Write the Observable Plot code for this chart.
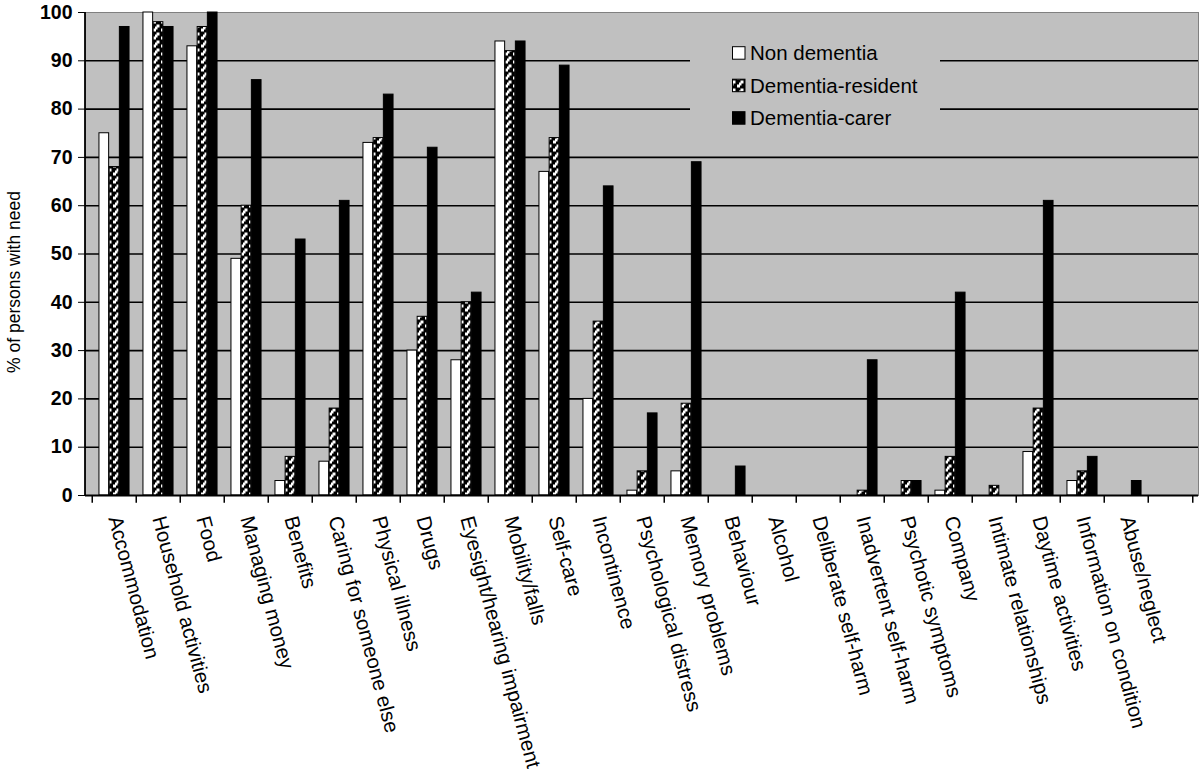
<!DOCTYPE html>
<html><head><meta charset="utf-8">
<script src="https://cdn.jsdelivr.net/npm/d3@7"></script>
<script src="https://cdn.jsdelivr.net/npm/@observablehq/plot@0.6"></script>
<style>
html,body{margin:0;padding:0;background:#fff;}
#chart{position:relative;width:1200px;height:777px;overflow:hidden;}
</style></head><body>
<svg width="0" height="0" style="position:absolute">
<defs>
<pattern id="zig" patternUnits="userSpaceOnUse" width="8" height="8">
<rect width="8" height="8" fill="#000"/>
<path d="M1,7.5 h3 v-2 h1.5 v-2 h2 v-3 h-3 v2 h-1.5 v2 h-2 z" fill="#fff"/>
</pattern>
</defs></svg>
<div id="chart"></div>
<script>
const categories = ["Accommodation","Household activities","Food","Managing money","Benefits",
  "Caring for someone else","Physical illness","Drugs","Eyesight/hearing impairment","Mobility/falls",
  "Self-care","Incontinence","Psychological distress","Memory problems","Behaviour","Alcohol",
  "Deliberate self-harm","Inadvertent self-harm","Psychotic symptoms","Company","Intimate relationships",
  "Daytime activities","Information on condition","Abuse/neglect",""];
const nonDementia      = [75,100,93,49,3,7,73,30,28,94,67,20,1,5,0,0,0,0,0,1,0,9,3,0,null];
const dementiaResident = [68,98,97,60,8,18,74,37,40,92,74,36,5,19,0,0,0,1,3,8,2,18,5,0,null];
const dementiaCarer    = [97,97,100,86,53,61,83,72,42,94,89,64,17,69,6,0,0,28,3,42,0,61,8,3,null];
const seriesNames = ["Non dementia","Dementia-resident","Dementia-carer"];
const seriesFills = ["#ffffff","url(#zig)","#000000"];
const yTicks = [0,10,20,30,40,50,60,70,80,90,100];
const yLabel = "% of persons with need";

const W = 1200, H = 777, mL = 85, mR = 2, mT = 12, mB = 282;
const bw = (W - mL - mR) / categories.length;
const barW = 10.2;
const off = (bw - 3 * barW) / 2;
const allSeries = [nonDementia, dementiaResident, dementiaCarer];
const rows = allSeries.map((vals, s) => categories.map((c, i) => ({category: c, value: vals[i], s}))
  .filter(d => d.value != null));

const barMarks = rows.map((data, s) => Plot.barY(data, {
  x: "category", y: "value", fill: seriesFills[s], stroke: "#000", strokeWidth: 1,
  insetLeft: off + s * barW, insetRight: bw - off - (s + 1) * barW
}));

const chart = Plot.plot({
  width: W, height: H, marginLeft: mL, marginRight: mR, marginTop: mT, marginBottom: mB,
  style: {fontFamily: "'Liberation Sans', Arial, Helvetica, sans-serif", color: "#000", background: "#fff"},
  x: {type: "band", domain: categories, padding: 0, axis: null},
  y: {domain: [0, 100], axis: null},
  marks: [
    Plot.frame({fill: "#c0c0c0", stroke: "#808080", strokeWidth: 1}),
    Plot.ruleY(yTicks.filter(v => v > 0 && v < 100), {stroke: "#000", strokeWidth: 1.6}),
    ...barMarks,
    Plot.ruleY([0], {stroke: "#000", strokeWidth: 1.8}),
    Plot.ruleX(categories, {x: d => d, dx: -bw / 2, y1: 0, y2: -1.6, stroke: "#000", strokeWidth: 1.5}),
    Plot.ruleX([categories[categories.length - 1]], {x: d => d, dx: bw / 2, y1: 0, y2: -1.6, stroke: "#000", strokeWidth: 1.5}),
    Plot.axisY({ticks: yTicks, tickSize: 7, tickPadding: 6, fontSize: 19.5, fontWeight: "bold", label: null, stroke: "#000"}),
    Plot.text(categories.filter(c => c), {x: d => d, frameAnchor: "bottom", dy: 21, rotate: 75,
      textAnchor: "start", lineAnchor: "middle", fontSize: 20.5, fill: "#000"})
  ]
});
document.getElementById("chart").appendChild(chart);

const svg = d3.select(chart);
svg.append("line").attr("x1", mL).attr("x2", mL).attr("y1", mT).attr("y2", H - mB + 0.9)
  .attr("stroke", "#000").attr("stroke-width", 1.8);
svg.append("text").attr("transform", "translate(13.5,282) rotate(-90)")
  .attr("text-anchor", "middle").attr("dy", "0.35em").attr("font-size", 17.5).attr("fill", "#000")
  .text(yLabel);
const lg = svg.append("g").attr("font-size", 20.5).attr("text-anchor", "start");
lg.append("rect").attr("x", 690).attr("y", 22).attr("width", 250).attr("height", 122).attr("fill", "#c0c0c0");
seriesNames.forEach((name, i) => {
  const cy = 53 + i * 32.5;
  lg.append("rect").attr("x", 732.5).attr("y", cy - 6.3).attr("width", 12.5).attr("height", 12.5)
    .attr("fill", seriesFills[i]).attr("stroke", "#000").attr("stroke-width", 1);
  lg.append("text").attr("x", 750).attr("y", cy).attr("dy", "0.36em").attr("fill", "#000").text(name);
});
</script>
</body></html>
